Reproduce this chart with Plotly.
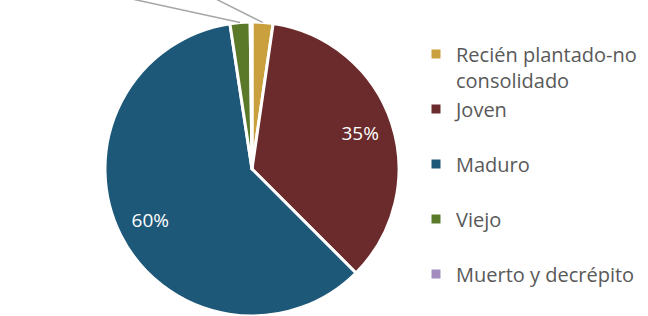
import numpy as np
import plotly.graph_objects as go

# ---- data ----
categories = ["Recién plantado-no consolidado", "Joven", "Maduro", "Viejo", "Muerto y decrépito"]
values = [2.3, 35.2, 60.1, 2.2, 0.2]
colors = ["#C9A03D", "#6B2A2B", "#1E5879", "#5A7A2A", "#A38DBF"]

# ---- layout constants ----
W, H = 648, 316
dom_x = [105 / W, 399 / W]
dom_y = [0.0, 1 - 22 / H]
# leader-line direction/length (px) for the small slices whose labels fall outside the frame
leader_offsets = {"Recién plantado-no consolidado": (-104, -52), "Viejo": (-230, -50)}

vals = np.array(values, dtype=float)
frac = vals / vals.sum()
pct_text = [f"{round(f * 100)}%" if f >= 0.05 else "" for f in frac]

legend_labels = []
for c in categories:
    if c.startswith("Recién"):
        legend_labels.append("Recién plantado-no<br>consolidado")
    else:
        legend_labels.append(c + "<br>&nbsp;")

fig = go.Figure()
fig.add_trace(go.Pie(
    labels=legend_labels, values=values, sort=False, direction="clockwise", rotation=0,
    marker=dict(colors=colors, line=dict(color="white", width=3)),
    textinfo="none", domain=dict(x=dom_x, y=dom_y), hoverinfo="label+percent",
    automargin=False,
))
# transparent ring used only to place the percentage labels
fig.add_trace(go.Pie(
    labels=legend_labels, values=values, sort=False, direction="clockwise", rotation=0,
    hole=0.55, marker=dict(colors=["rgba(0,0,0,0)"] * len(values), line=dict(width=0)),
    text=pct_text, textinfo="text", textposition="inside", insidetextorientation="horizontal",
    textfont=dict(color="white", size=19, family="Open Sans"),
    domain=dict(x=dom_x, y=dom_y), showlegend=False, hoverinfo="skip", automargin=False,
))

# leader lines for the small slices (computed from the slice mid-angles)
cx = (dom_x[0] + dom_x[1]) / 2 * W
cy = (1 - (dom_y[0] + dom_y[1]) / 2) * H
R = min((dom_x[1] - dom_x[0]) * W, (dom_y[1] - dom_y[0]) * H) / 2
cum = np.cumsum(frac) - frac / 2
shapes = []
for c, f, m in zip(categories, frac, cum):
    if c in leader_offsets:
        th = 2 * np.pi * m
        px = cx + R * np.sin(th)
        py = cy - R * np.cos(th)
        ax, ay = leader_offsets[c]
        shapes.append(dict(
            type="line", xref="paper", yref="paper",
            x0=px / W, y0=1 - py / H, x1=(px + ax) / W, y1=1 - (py + ay) / H,
            line=dict(color="#A6A6A6", width=1.5),
        ))

fig.update_layout(
    width=W, height=H,
    margin=dict(l=0, r=0, t=0, b=0, autoexpand=False),
    paper_bgcolor="white", plot_bgcolor="white",
    showlegend=True,
    legend=dict(
        x=416 / W, y=1 - 34.5 / H, xanchor="left", yanchor="top",
        font=dict(family="Open Sans", size=20, color="#595959"),
        valign="top", bgcolor="rgba(0,0,0,0)", borderwidth=0,
    ),
    shapes=shapes,
)

fig.write_html("out.html", config={"displayModeBar": False},
               post_script="document.body.style.margin='0';")
